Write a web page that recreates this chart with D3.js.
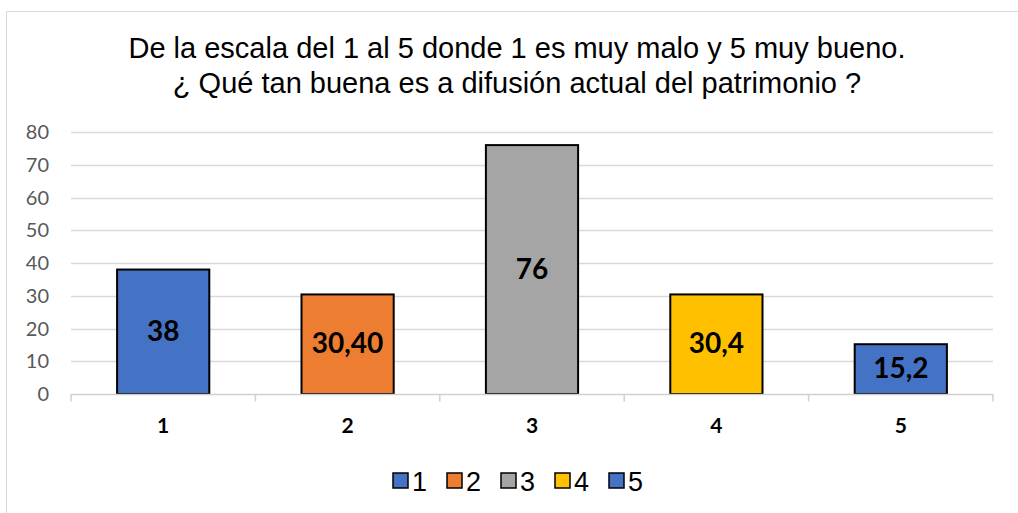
<!DOCTYPE html>
<html lang="es">
<head>
<meta charset="UTF-8">
<title>Difusión del patrimonio</title>
<style>
    body { margin: 0; background: #fff; }
    svg { display: block; }
    .title { font-family: "Liberation Sans", Arial, sans-serif; font-size: 29px; fill: #000; }
    .ytick { font-family: Lato, "Open Sans", sans-serif; font-size: 20px; fill: #595959; }
    .xtick { font-family: Lato, "Open Sans", sans-serif; font-size: 21px; font-weight: bold; fill: #000; }
    .val { font-family: Lato, "Open Sans", sans-serif; font-size: 28px; font-weight: bold; fill: #000; }
    .legend { font-family: "Liberation Sans", Arial, sans-serif; font-size: 27px; fill: #000; }
</style>
</head>
<body>
<svg id="chart" width="1018" height="513"></svg>
<script src="https://d3js.org/d3.v7.min.js"></script>
<script>
    const categories = ["1", "2", "3", "4", "5"];
    const values = [38, 30.4, 76, 30.4, 15.2];
    const valueLabels = ["38", "30,40", "76", "30,4", "15,2"];
    const colors = ["#4472c4", "#ed7d31", "#a5a5a5", "#ffc000", "#4472c4"];
    const yTicks = [0, 10, 20, 30, 40, 50, 60, 70, 80];
    const titleLines = [
        "De la escala del 1 al 5 donde 1 es muy malo y 5 muy bueno.",
        "¿ Qué tan buena es a difusión actual del patrimonio ?"
    ];

    const svg = d3.select("#chart");
    const margin = { left: 71, right: 25, top: 132, bottom: 119 };
    const W = 1018, H = 513;

    // chart frame
    svg.append("rect")
        .attr("x", 6.5).attr("y", 11.5)
        .attr("width", 1030).attr("height", 520)
        .attr("fill", "#fff")
        .attr("stroke", "#d9d9d9");

    svg.selectAll("text.title")
        .data(titleLines)
        .enter().append("text")
        .attr("class", "title")
        .attr("x", 517)
        .attr("y", (d, i) => 58 + i * 35)
        .attr("text-anchor", "middle")
        .text(d => d);

    const x = d3.scaleBand()
        .domain(categories)
        .range([margin.left, W - margin.right])
        .paddingInner(0.5)
        .paddingOuter(0.25);

    const y = d3.scaleLinear()
        .domain([0, 80])
        .range([H - margin.bottom, margin.top]);

    // gridlines
    svg.append("g")
        .selectAll("line")
        .data(yTicks.filter(d => d > 0))
        .enter().append("line")
        .attr("x1", margin.left).attr("x2", W - margin.right)
        .attr("y1", d => Math.round(y(d)) + 0.5)
        .attr("y2", d => Math.round(y(d)) + 0.5)
        .attr("stroke", "#d9d9d9")
        .attr("stroke-width", 1.5);

    svg.append("g")
        .selectAll("text")
        .data(yTicks)
        .enter().append("text")
        .attr("class", "ytick")
        .attr("x", 49)
        .attr("y", d => y(d) + 7)
        .attr("text-anchor", "end")
        .text(d => d);

    // bars
    svg.append("g")
        .selectAll("rect")
        .data(values)
        .enter().append("rect")
        .attr("x", (d, i) => x(categories[i]))
        .attr("y", d => y(d))
        .attr("width", x.bandwidth())
        .attr("height", d => y(0) - y(d))
        .attr("fill", (d, i) => colors[i])
        .attr("stroke", "#000")
        .attr("stroke-width", 2);

    // x axis line + ticks at category boundaries
    const y0 = Math.round(y(0)) + 0.5;
    svg.append("line")
        .attr("x1", margin.left).attr("x2", W - margin.right)
        .attr("y1", y0).attr("y2", y0)
        .attr("stroke", "#d0d0d0").attr("stroke-width", 1.5);

    const step = x.step();
    const bounds = d3.range(categories.length + 1).map(i => margin.left + i * step);
    svg.append("g")
        .selectAll("line")
        .data(bounds)
        .enter().append("line")
        .attr("x1", d => d).attr("x2", d => d)
        .attr("y1", y0).attr("y2", y0 + 7)
        .attr("stroke", "#d0d0d0").attr("stroke-width", 1.5);

    svg.append("g")
        .selectAll("text")
        .data(categories)
        .enter().append("text")
        .attr("class", "xtick")
        .attr("x", d => x(d) + x.bandwidth() / 2)
        .attr("y", 433)
        .attr("text-anchor", "middle")
        .text(d => d);

    // value labels centred in bars
    svg.append("g")
        .selectAll("text")
        .data(values)
        .enter().append("text")
        .attr("class", "val")
        .attr("x", (d, i) => x(categories[i]) + x.bandwidth() / 2)
        .attr("y", d => (y(d) + y(0)) / 2 + 9)
        .attr("text-anchor", "middle")
        .text((d, i) => valueLabels[i]);

    // legend
    const legend = svg.append("g").attr("transform", "translate(393,481)");
    const item = legend.selectAll("g")
        .data(categories)
        .enter().append("g")
        .attr("transform", (d, i) => `translate(${i * 54},0)`);
    item.append("rect")
        .attr("x", 0).attr("y", -8)
        .attr("width", 15).attr("height", 15)
        .attr("fill", (d, i) => colors[i])
        .attr("stroke", "#000").attr("stroke-width", 1.5);
    item.append("text")
        .attr("class", "legend")
        .attr("x", 19).attr("y", 10)
        .text(d => d);
</script>
</body>
</html>
